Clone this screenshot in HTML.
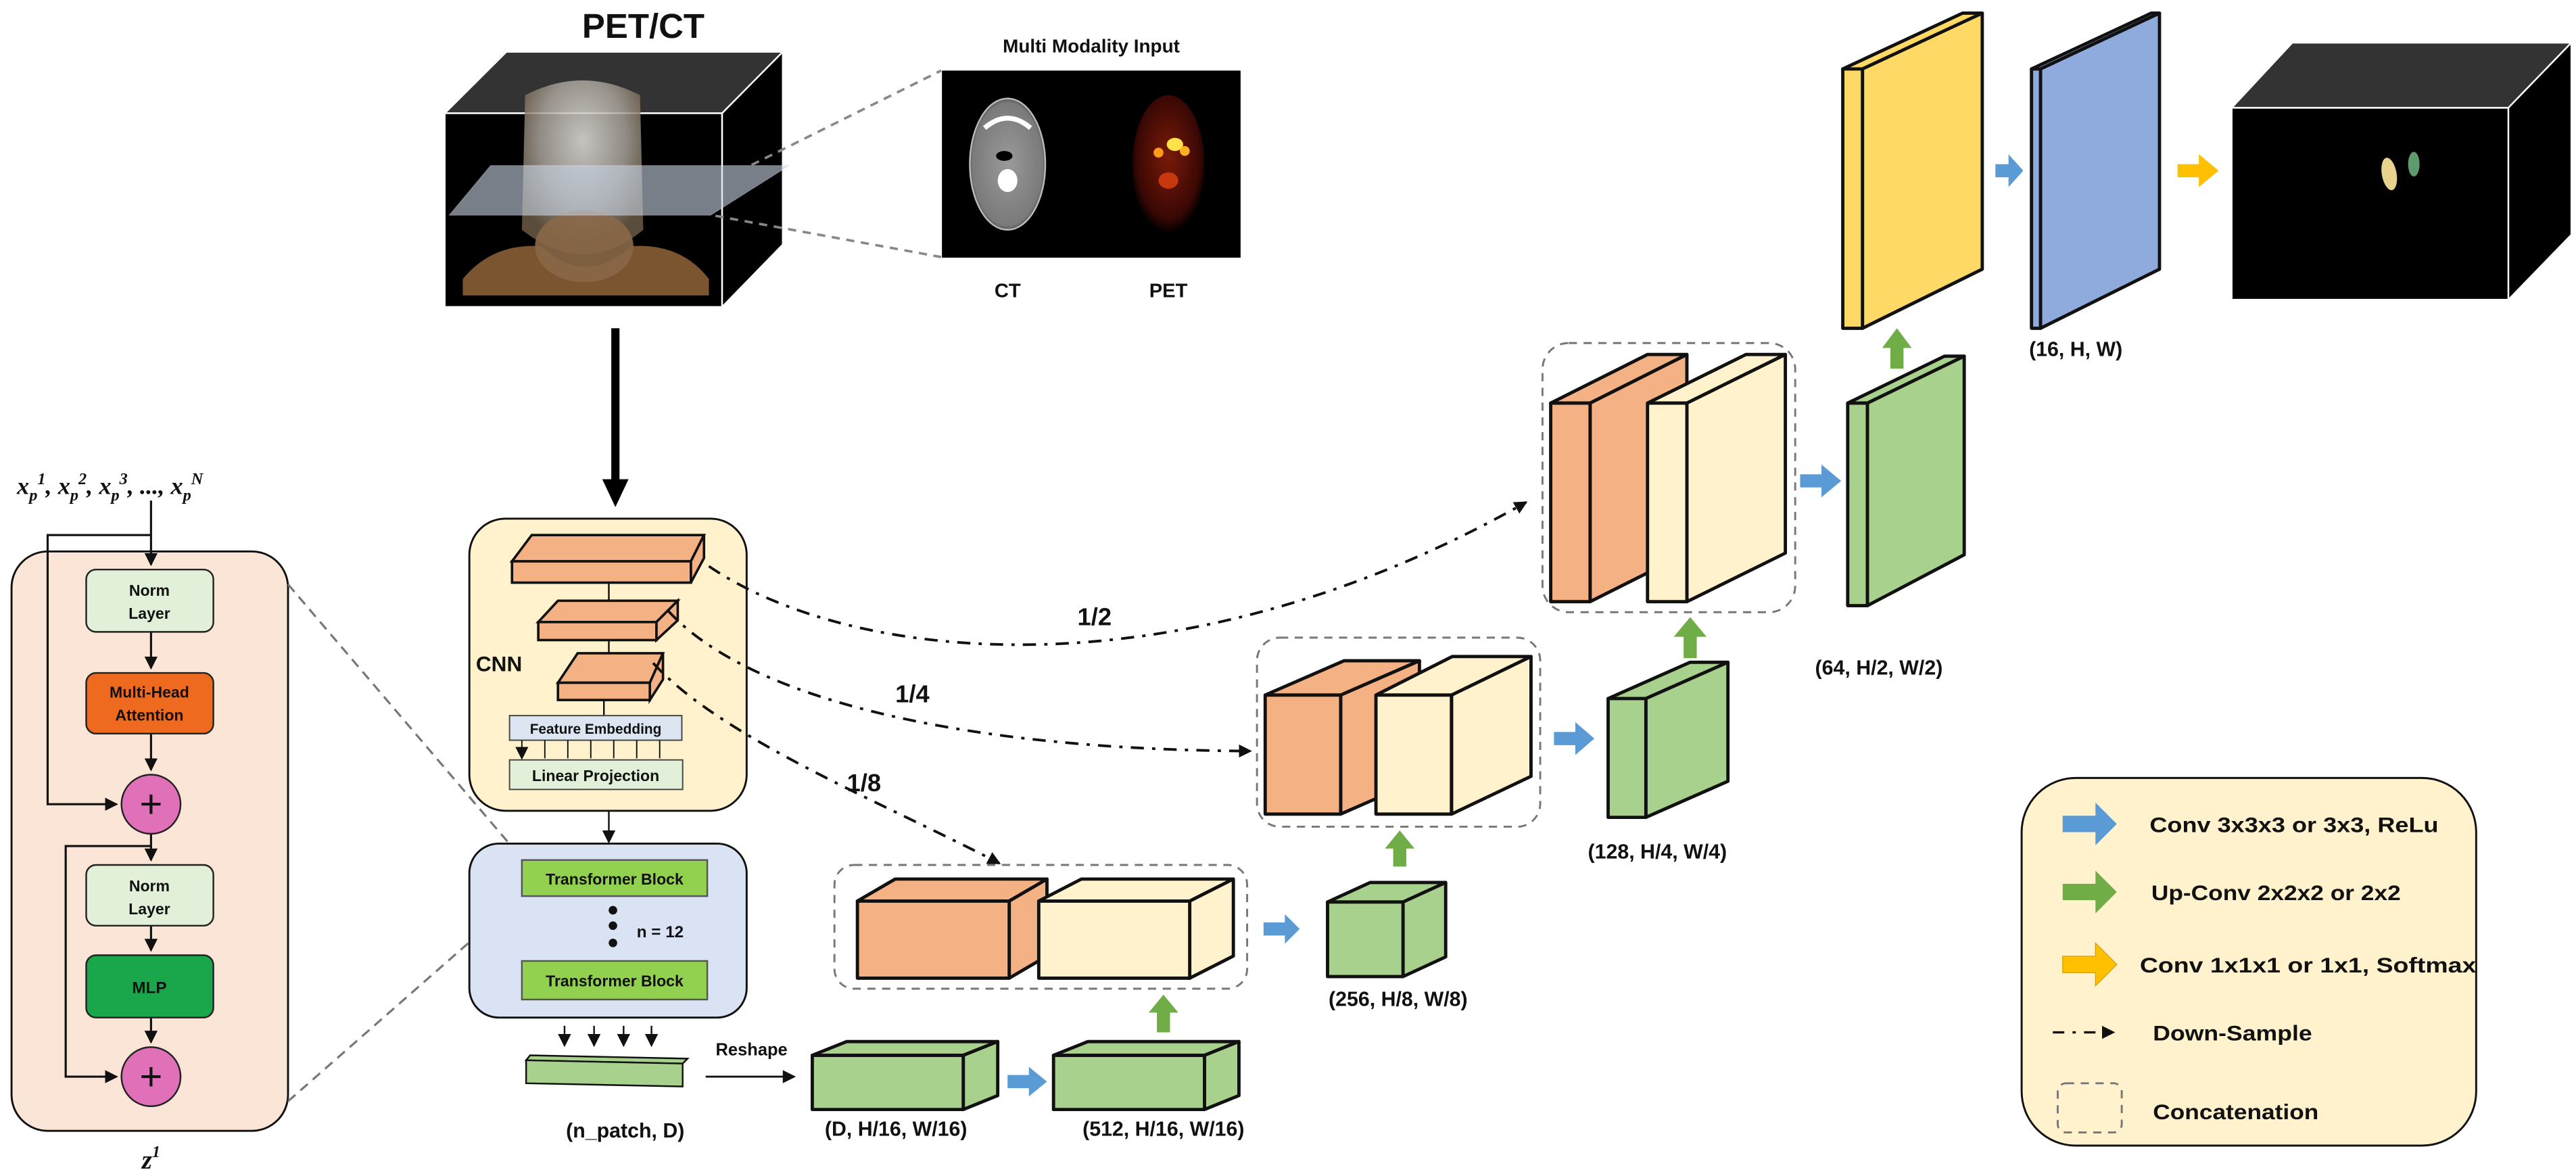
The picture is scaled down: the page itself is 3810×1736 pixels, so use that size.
<!DOCTYPE html>
<html><head><meta charset="utf-8"><style>
html,body{margin:0;padding:0;background:#fff;}
svg{display:block;}
text{font-family:"Liberation Sans",sans-serif;font-weight:bold;fill:#111;}
</style></head><body>
<svg width="3810" height="1736" viewBox="0 0 1569.8 715.3" xmlns="http://www.w3.org/2000/svg">
<defs>
<marker id="ah" markerWidth="8" markerHeight="8" refX="7" refY="4" orient="auto" markerUnits="userSpaceOnUse"><path d="M0,0 L8,4 L0,8 z" fill="#111"/></marker>
<radialGradient id="skull" cx="0.5" cy="0.35" r="0.6"><stop offset="0" stop-color="#e8e6e2"/><stop offset="0.6" stop-color="#a9a39a"/><stop offset="1" stop-color="#6b5a45"/></radialGradient>
<radialGradient id="pet" cx="0.5" cy="0.45" r="0.55"><stop offset="0" stop-color="#7a1a08"/><stop offset="0.8" stop-color="#3a0804"/><stop offset="1" stop-color="#000"/></radialGradient>
<radialGradient id="ct" cx="0.5" cy="0.5" r="0.55"><stop offset="0" stop-color="#9a9a9a"/><stop offset="0.85" stop-color="#7a7a7a"/><stop offset="1" stop-color="#222"/></radialGradient>
</defs>

<!-- ===== PET/CT input cube ===== -->
<text x="392" y="23" font-size="21" text-anchor="middle">PET/CT</text>
<polygon points="271,69 308.6,31.6 477,31.6 440,69" fill="#333" stroke="#fff" stroke-width="1"/>
<polygon points="440,69 477,31.6 477,149 440,187" fill="#000" stroke="#fff" stroke-width="1"/>
<rect x="271" y="69" width="169" height="118" fill="#000" stroke="#fff" stroke-width="1"/>
<path d="M320,58 Q355,40 390,58 L392,140 Q356,170 318,140 Z" fill="url(#skull)" opacity="0.85"/>
<path d="M282,170 Q300,148 330,150 Q356,175 385,150 Q415,148 432,170 L432,180 L282,180 Z" fill="#7a5530"/>
<ellipse cx="356" cy="150" rx="30" ry="22" fill="#8a6848" opacity="0.9"/>
<polygon points="274,131 299,101 480.5,101 433,131" fill="#c8d4e4" opacity="0.6" stroke="#dde" stroke-width="0.6"/>
<line x1="458" y1="100.5" x2="573.5" y2="43" stroke="#888" stroke-width="1.5" stroke-dasharray="5,4"/>
<line x1="436" y1="131.5" x2="573.5" y2="156.6" stroke="#888" stroke-width="1.5" stroke-dasharray="5,4"/>

<!-- multi modality -->
<text x="665" y="32" font-size="11.5" text-anchor="middle">Multi Modality Input</text>
<rect x="574" y="43" width="182" height="114" fill="#000"/>
<ellipse cx="614" cy="100" rx="23" ry="40" fill="url(#ct)" stroke="#bbb" stroke-width="1"/>
<path d="M600,78 Q614,66 628,78" stroke="#fff" stroke-width="3" fill="none"/>
<ellipse cx="614" cy="110" rx="6" ry="7" fill="#fff"/>
<ellipse cx="612" cy="95" rx="5" ry="3" fill="#000"/>
<ellipse cx="712" cy="100" rx="22" ry="42" fill="url(#pet)"/>
<ellipse cx="716" cy="88" rx="5" ry="4" fill="#ffe24a"/>
<ellipse cx="706" cy="93" rx="3" ry="3" fill="#ff9a1a"/>
<ellipse cx="722" cy="92" rx="3" ry="3" fill="#ffb020"/>
<ellipse cx="712" cy="110" rx="6" ry="5" fill="#c8380e"/>
<text x="614" y="181" font-size="12" text-anchor="middle">CT</text>
<text x="712" y="181" font-size="12" text-anchor="middle">PET</text>

<!-- big arrow down -->
<line x1="375" y1="200" x2="375" y2="294" stroke="#000" stroke-width="5"/>
<polygon points="367,292 383,292 375,309" fill="#000"/>

<!-- ===== Left transformer detail ===== -->
<text x="67" y="301" font-size="15" font-family="Liberation Serif" font-style="italic" text-anchor="middle" style="font-family:'Liberation Serif',serif;font-style:italic">x<tspan font-size="10" dy="4">p</tspan><tspan font-size="10" dy="-10">1</tspan><tspan dy="6">, x</tspan><tspan font-size="10" dy="4">p</tspan><tspan font-size="10" dy="-10">2</tspan><tspan dy="6">, x</tspan><tspan font-size="10" dy="4">p</tspan><tspan font-size="10" dy="-10">3</tspan><tspan dy="6">, ..., x</tspan><tspan font-size="10" dy="4">p</tspan><tspan font-size="10" dy="-10">N</tspan></text>
<rect x="7" y="336" width="168.5" height="353" rx="22" fill="#fbe5d6" stroke="#111" stroke-width="1.2"/>
<g stroke="#111" stroke-width="1.3" fill="none">
<line x1="92" y1="305" x2="92" y2="344" marker-end="url(#ah)"/>
<polyline points="92,326 29,326 29,490 71,490" marker-end="url(#ah)"/>
<line x1="92" y1="385" x2="92" y2="407" marker-end="url(#ah)"/>
<line x1="92" y1="447" x2="92" y2="469" marker-end="url(#ah)"/>
<line x1="92" y1="508" x2="92" y2="524" marker-end="url(#ah)"/>
<polyline points="92,515.5 40,515.5 40,656 71,656" marker-end="url(#ah)"/>
<line x1="92" y1="564" x2="92" y2="579" marker-end="url(#ah)"/>
<line x1="92" y1="620" x2="92" y2="635" marker-end="url(#ah)"/>
</g>
<rect x="52.5" y="347" width="77.5" height="38" rx="6" fill="#e2f0d9" stroke="#222" stroke-width="1"/>
<text x="91" y="363" font-size="9.5" text-anchor="middle">Norm</text><text x="91" y="377" font-size="9.5" text-anchor="middle">Layer</text>
<rect x="52.5" y="410" width="77.5" height="37" rx="6" fill="#ed6a1f" stroke="#222" stroke-width="1"/>
<text x="91" y="425" font-size="9.5" text-anchor="middle">Multi-Head</text><text x="91" y="439" font-size="9.5" text-anchor="middle">Attention</text>
<circle cx="92" cy="490" r="18" fill="#e070b8" stroke="#222" stroke-width="1"/>
<text x="92" y="498" font-size="24" font-weight="normal" text-anchor="middle" style="font-weight:normal">+</text>
<rect x="52.5" y="527" width="77.5" height="37" rx="6" fill="#e2f0d9" stroke="#222" stroke-width="1"/>
<text x="91" y="543" font-size="9.5" text-anchor="middle">Norm</text><text x="91" y="557" font-size="9.5" text-anchor="middle">Layer</text>
<rect x="52.5" y="582" width="77.5" height="38" rx="6" fill="#1aa64a" stroke="#222" stroke-width="1"/>
<text x="91" y="605" font-size="10" text-anchor="middle">MLP</text>
<circle cx="92" cy="656" r="18" fill="#e070b8" stroke="#222" stroke-width="1"/>
<text x="92" y="664" font-size="24" text-anchor="middle" style="font-weight:normal">+</text>
<text x="92" y="712" font-size="16" text-anchor="middle" style="font-family:'Liberation Serif',serif;font-style:italic">z<tspan font-size="10" dy="-7">1</tspan></text>
<line x1="175.5" y1="356" x2="318" y2="523" stroke="#777" stroke-width="1.3" stroke-dasharray="6,4"/>
<line x1="175.5" y1="671" x2="318" y2="546" stroke="#777" stroke-width="1.3" stroke-dasharray="6,4"/>

<!-- ===== CNN box ===== -->
<rect x="286" y="316" width="169" height="178" rx="22" fill="#fff2cc" stroke="#111" stroke-width="1.2"/>
<text x="290" y="409" font-size="13">CNN</text>
<g stroke="#111" stroke-width="1.5" fill="#f4b183">
<polygon points="312,342 324,326 429,326 421,342"/><polygon points="421,342 429,326 429,340 421,355"/><rect x="312" y="342" width="109" height="13"/>
<polygon points="328,379 340,366 413,366 400,379"/><polygon points="400,379 413,366 413,378 400,390"/><rect x="328" y="379" width="72" height="11"/>
<polygon points="340,416 352,398 404,398 396,416"/><polygon points="396,416 404,398 404,414 396,426.5"/><rect x="340" y="416" width="56" height="10.5"/>
</g>
<g stroke="#111" stroke-width="1"><line x1="371" y1="355" x2="371" y2="366"/><line x1="371" y1="390" x2="371" y2="398"/><line x1="368" y1="426.5" x2="368" y2="436"/></g>
<rect x="310.5" y="436" width="105" height="15" fill="#dce6f2" stroke="#444" stroke-width="0.8"/>
<text x="363" y="447" font-size="8.6" text-anchor="middle">Feature Embedding</text>
<g stroke="#111" stroke-width="0.8">
<line x1="318" y1="451" x2="318" y2="462" marker-end="url(#ah)"/><line x1="332" y1="451" x2="332" y2="462"/><line x1="346" y1="451" x2="346" y2="462"/><line x1="360" y1="451" x2="360" y2="462"/><line x1="374" y1="451" x2="374" y2="462"/><line x1="388" y1="451" x2="388" y2="462"/><line x1="402" y1="451" x2="402" y2="462"/>
</g>
<rect x="310.5" y="463" width="105.5" height="18" fill="#e2f0d9" stroke="#444" stroke-width="0.8"/>
<text x="363" y="476" font-size="9.5" text-anchor="middle">Linear Projection</text>
<line x1="371" y1="494" x2="371" y2="513" stroke="#111" stroke-width="1" marker-end="url(#ah)"/>

<!-- ===== Transformer box ===== -->
<rect x="286" y="514" width="169" height="106" rx="18" fill="#dae3f3" stroke="#111" stroke-width="1.2"/>
<rect x="318" y="524" width="113" height="22" fill="#92d050" stroke="#555" stroke-width="1"/>
<text x="374.5" y="539" font-size="9.5" text-anchor="middle">Transformer Block</text>
<circle cx="373.5" cy="554.6" r="2.6" fill="#111"/><circle cx="373.5" cy="564" r="2.6" fill="#111"/><circle cx="373.5" cy="574.5" r="2.6" fill="#111"/>
<text x="388" y="571" font-size="10">n = 12</text>
<rect x="318" y="585.5" width="113" height="23.5" fill="#92d050" stroke="#555" stroke-width="1"/>
<text x="374.5" y="601" font-size="9.5" text-anchor="middle">Transformer Block</text>
<g stroke="#111" stroke-width="1">
<line x1="344" y1="625" x2="344" y2="637" marker-end="url(#ah)"/><line x1="362" y1="625" x2="362" y2="637" marker-end="url(#ah)"/><line x1="380" y1="625" x2="380" y2="637" marker-end="url(#ah)"/><line x1="397" y1="625" x2="397" y2="637" marker-end="url(#ah)"/>
</g>
<polygon points="320.6,646 323,643 419,645 416,648" fill="#a9d18e" stroke="#111" stroke-width="1"/>
<polygon points="320.6,646 416,648 416,662 320.6,660" fill="#a9d18e" stroke="#111" stroke-width="1"/>
<text x="381" y="693" font-size="12.5" text-anchor="middle">(n_patch, D)</text>
<text x="458" y="643" font-size="10.5" text-anchor="middle">Reshape</text>
<line x1="430" y1="656" x2="484" y2="656" stroke="#111" stroke-width="1.2" marker-end="url(#ah)"/>

<!-- ===== Dash-dot skip arrows ===== -->
<g stroke="#111" stroke-width="1.6" fill="none" stroke-dasharray="8,5,2,5">
<path d="M432,345 C520,405 720,425 930,306" marker-end="url(#ah)"/>
<path d="M407,372 C460,430 600,457 762,457.6" marker-end="url(#ah)"/>
<path d="M398,404 C440,450 540,490 609,526" marker-end="url(#ah)"/>
</g>
<text x="667" y="381" font-size="15" text-anchor="middle">1/2</text>
<text x="556" y="428" font-size="15" text-anchor="middle">1/4</text>
<text x="526.5" y="482" font-size="15" text-anchor="middle">1/8</text>

<!-- ===== Bottom level ===== -->
<rect x="508.5" y="527" width="251.5" height="75.4" rx="12" fill="none" stroke="#777" stroke-width="1.2" stroke-dasharray="5,4"/>
<g stroke="#111" stroke-width="2" stroke-linejoin="round">
<polygon points="522.5,549 545.5,535.6 638,535.6 615,549" fill="#f4b183"/><polygon points="615,549 638,535.6 638,582.5 615,596" fill="#f4b183"/><rect x="522.5" y="549" width="92.5" height="47" fill="#f4b183"/>
<polygon points="633,549 659,535.6 751.6,535.6 725,549" fill="#fff2cc"/><polygon points="725,549 751.6,535.6 751.6,582.5 725,596" fill="#fff2cc"/><rect x="633" y="549" width="92" height="47" fill="#fff2cc"/>
<polygon points="495,643 516,634.6 608,634.6 587,643" fill="#a9d18e"/><polygon points="587,643 608,634.6 608,667.5 587,676" fill="#a9d18e"/><rect x="495" y="643" width="92" height="33" fill="#a9d18e"/>
<polygon points="642,643 663,634.6 755,634.6 734,643" fill="#a9d18e"/><polygon points="734,643 755,634.6 755,667.5 734,676" fill="#a9d18e"/><rect x="642" y="643" width="92" height="33" fill="#a9d18e"/>
<polygon points="809,549.6 835,537.7 881,537.7 855,549.6" fill="#a9d18e"/><polygon points="855,549.6 881,537.7 881,583 855,595" fill="#a9d18e"/><rect x="809" y="549.6" width="46" height="45.4" fill="#a9d18e"/>
</g>
<text x="546" y="692" font-size="12.5" text-anchor="middle">(D, H/16, W/16)</text>
<text x="709" y="692" font-size="12.5" text-anchor="middle">(512, H/16, W/16)</text>
<text x="852" y="613" font-size="12.5" text-anchor="middle">(256, H/8, W/8)</text>

<!-- ===== Mid level ===== -->
<rect x="766" y="388.5" width="172.6" height="115.2" rx="14" fill="none" stroke="#777" stroke-width="1.2" stroke-dasharray="5,4"/>
<g stroke="#111" stroke-width="2" stroke-linejoin="round">
<polygon points="771,423.5 819,402.6 865,402.6 817,423.5" fill="#f4b183"/><polygon points="817,423.5 865,402.6 865,475 817,496" fill="#f4b183"/><rect x="771" y="423.5" width="46" height="72.5" fill="#f4b183"/>
<polygon points="838.5,423.5 885,400 933,400 884.6,423.5" fill="#fff2cc"/><polygon points="884.6,423.5 933,400 933,473 884.6,496" fill="#fff2cc"/><rect x="838.5" y="423.5" width="46" height="72.5" fill="#fff2cc"/>
<polygon points="980,425.6 1030,403.5 1053,403.5 1003,425.6" fill="#a9d18e"/><polygon points="1003,425.6 1053,403.5 1053,476 1003,498" fill="#a9d18e"/><rect x="980" y="425.6" width="23" height="72.4" fill="#a9d18e"/>
</g>
<text x="1010" y="523" font-size="12.5" text-anchor="middle">(128, H/4, W/4)</text>

<!-- ===== Top level ===== -->
<rect x="940" y="209" width="154" height="164" rx="16" fill="none" stroke="#777" stroke-width="1.2" stroke-dasharray="5,4"/>
<g stroke="#111" stroke-width="2" stroke-linejoin="round">
<polygon points="945,245.6 1004,216 1028,216 969,245.6" fill="#f4b183"/><polygon points="969,245.6 1028,216 1028,337 969,366.6" fill="#f4b183"/><rect x="945" y="245.6" width="24" height="121" fill="#f4b183"/>
<polygon points="1004,245.6 1064,216 1088,216 1028,245.6" fill="#fff2cc"/><polygon points="1028,245.6 1088,216 1088,337 1028,366.6" fill="#fff2cc"/><rect x="1004" y="245.6" width="24" height="121" fill="#fff2cc"/>
<polygon points="1126,245.6 1185,217 1197,217 1138,245.6" fill="#a9d18e"/><polygon points="1138,245.6 1197,217 1197,338 1138,369" fill="#a9d18e"/><rect x="1126" y="245.6" width="12" height="123.4" fill="#a9d18e"/>
<polygon points="1123,42 1196,8 1208,8 1135,42" fill="#ffd966"/><polygon points="1135,42 1208,8 1208,164 1135,200" fill="#ffd966"/><rect x="1123" y="42" width="12" height="158" fill="#ffd966"/>
<polygon points="1238,42 1311,8 1316,8 1243.5,42" fill="#8faadc"/><polygon points="1243.5,42 1316,8 1316,164 1243.5,200" fill="#8faadc"/><rect x="1238" y="42" width="5.5" height="158" fill="#8faadc"/>
</g>
<text x="1145" y="411" font-size="12.5" text-anchor="middle">(64, H/2, W/2)</text>
<text x="1265" y="217" font-size="12.5" text-anchor="middle">(16, H, W)</text>

<!-- output cube -->
<polygon points="1360,65.7 1397,26 1567,26 1528.6,65.7" fill="#333" stroke="#fff" stroke-width="1"/>
<polygon points="1528.6,65.7 1567,26 1567,143 1528.6,182.6" fill="#000" stroke="#fff" stroke-width="1"/>
<rect x="1360" y="65.7" width="168.6" height="116.9" fill="#000" stroke="#fff" stroke-width="1"/>
<ellipse cx="1456" cy="106" rx="4.5" ry="10" fill="#e8d38e" transform="rotate(-10 1456 106)"/>
<ellipse cx="1471" cy="100" rx="3.5" ry="7.5" fill="#5f9a6c"/>

<!-- ===== Block arrows ===== -->
<g fill="#5b9bd5">
<polygon points="770,562 783,562 783,557 792,566 783,575 783,570 770,570"/>
<polygon points="614,655 627,655 627,650 638,659 627,668 627,663 614,663"/>
<polygon points="947,446 960,446 960,440 971.6,450 960,460 960,454 947,454"/>
<polygon points="1097,289 1110,289 1110,283 1122,293 1110,303 1110,297 1097,297"/>
<polygon points="1216,100 1224,100 1224,94 1233,104 1224,114 1224,108 1216,108"/>
</g>
<g fill="#70ad47">
<polygon points="705,629 713,629 713,617 718,617 709,606 700,617 705,617"/>
<polygon points="849,528 857,528 857,517 862,517 853,506 844,517 849,517"/>
<polygon points="1026,401 1034,401 1034,388 1040,388 1030,376 1020,388 1026,388"/>
<polygon points="1023,402 1031,402 1031,389 1036,389 1027,376 1018,389 1023,389" opacity="0"/>
<polygon points="1152,224.6 1160,224.6 1160,212 1165,212 1156,200 1147,212 1152,212"/>
</g>
<polygon points="1327,100 1340,100 1340,94 1352,104 1340,114 1340,108 1327,108" fill="#ffc000"/>

<!-- ===== Legend ===== -->
<rect x="1232" y="474" width="277" height="224" rx="33" fill="#fff2cc" stroke="#111" stroke-width="1.2"/>
<polygon points="1257,497 1277,497 1277,489 1290,502 1277,515 1277,507 1257,507" fill="#5b9bd5"/>
<polygon points="1257,538.5 1277,538.5 1277,530.5 1290,543.5 1277,556.5 1277,548.5 1257,548.5" fill="#70ad47"/>
<polygon points="1257,582.6 1277,582.6 1277,574.6 1290,587.6 1277,600.6 1277,592.6 1257,592.6" fill="#ffc000" stroke="#d89a00" stroke-width="0.5"/>
<line x1="1251" y1="629" x2="1288" y2="629" stroke="#111" stroke-width="1.4" stroke-dasharray="7,5,2,5" marker-end="url(#ah)"/>
<rect x="1254" y="660" width="39" height="30" rx="5" fill="none" stroke="#777" stroke-width="1.2" stroke-dasharray="5,4"/>
<text x="1310" y="507" font-size="13" textLength="176" lengthAdjust="spacingAndGlyphs">Conv 3x3x3 or 3x3, ReLu</text>
<text x="1311" y="548.5" font-size="13" textLength="152" lengthAdjust="spacingAndGlyphs">Up-Conv 2x2x2 or 2x2</text>
<text x="1304" y="592.6" font-size="13" textLength="205" lengthAdjust="spacingAndGlyphs">Conv 1x1x1 or 1x1, Softmax</text>
<text x="1312" y="634" font-size="13" textLength="97" lengthAdjust="spacingAndGlyphs">Down-Sample</text>
<text x="1312" y="682" font-size="13" textLength="101" lengthAdjust="spacingAndGlyphs">Concatenation</text>
</svg>
</body></html>
